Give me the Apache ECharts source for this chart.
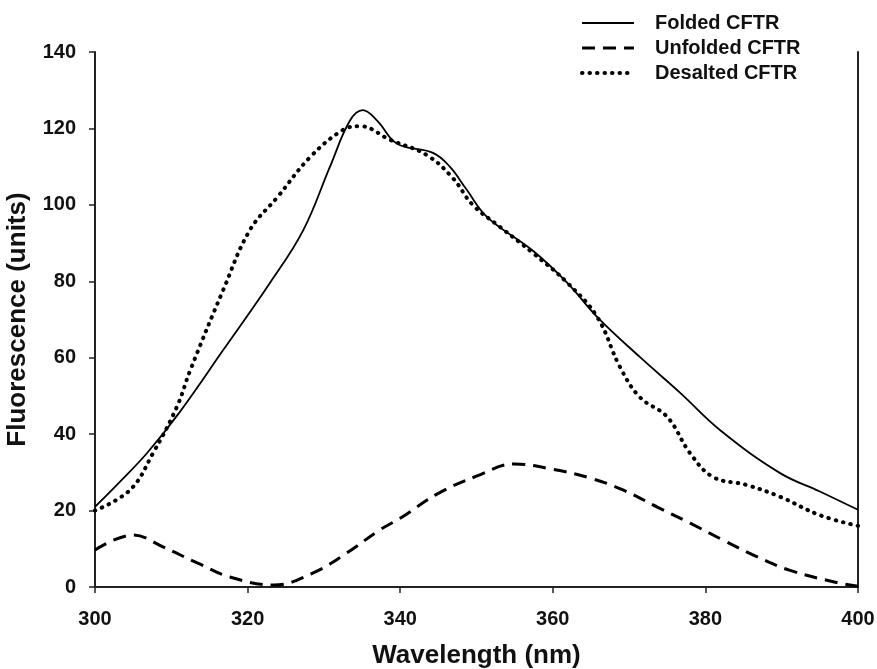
<!DOCTYPE html>
<html>
<head>
<meta charset="utf-8">
<script src="https://cdn.jsdelivr.net/npm/echarts@6/dist/echarts.min.js"></script>
<style>html,body{margin:0;padding:0;background:#fff;}#c{width:877px;height:669px;}</style>
</head>
<body>
<div id="c"></div>
<script>
var xTicks = [300, 320, 340, 360, 380, 400];
var yTicks = [0, 20, 40, 60, 80, 100, 120, 140];

var foldedX = [300, 303, 306.8, 311, 316.8, 322.9, 327.3, 330.8, 333.4, 335.1, 337, 339.6, 344.3, 346.5, 348.7, 351.4, 357.4, 361.9, 365.8, 371.4, 376.7, 381.9, 389.8, 395, 400];
var foldedY = [21, 27, 35, 45.5, 62, 79.5, 93.4, 110, 122, 124.8, 122, 116, 113.6, 110, 104, 96.8, 88, 79.6, 70.7, 60.2, 50.8, 41.1, 29.8, 25, 20.2];

var unfoldedX = [300, 305, 308.9, 313.4, 317.7, 323.4, 328.6, 333, 337.3, 340, 345, 350, 355, 360, 364.9, 369.2, 373.7, 378, 382.3, 386.8, 391, 397.6, 400];
var unfoldedY = [9.7, 13.6, 10.5, 6.3, 2.6, 0.5, 3.7, 8.9, 14.9, 18, 24.5, 29, 32.2, 30.8, 28.5, 25.4, 20.9, 16.7, 12.3, 7.9, 4.4, 1, 0.2];

var desaltedX = [300, 304.6, 307.6, 310.7, 312.5, 316.8, 320.3, 323.9, 328.2, 332.5, 334.7, 338.7, 343.5, 346.9, 349.5, 353.1, 357.4, 361.9, 365.8, 368.8, 371.4, 375, 378, 381, 385.4, 389.8, 395, 400];
var desaltedY = [20, 25.4, 35, 47, 56.8, 77.7, 93.4, 102, 112.5, 119.6, 120.6, 117, 113, 107, 100, 94.2, 87.4, 79.6, 70.7, 57.6, 49.7, 44.5, 35, 28.8, 26.7, 23.6, 18.8, 16];

var seriesNames = ['Folded CFTR', 'Unfolded CFTR', 'Desalted CFTR'];

function pairs(xs, ys) { return xs.map(function (x, i) { return [x, ys[i]]; }); }

var solidStyle = {color: '#000', width: 1.8, type: 'solid'};
var dashStyle = {color: '#000', width: 3, type: [13, 8]};
var dotStyle = {color: '#000', width: 4, type: [0.5, 7], cap: 'round'};

var chart = echarts.init(document.getElementById('c'), null, {renderer: 'canvas'});
var font = '"Liberation Sans", Arial, sans-serif';
chart.setOption({
  animation: false,
  backgroundColor: '#fff',
  grid: {left: 95, right: 19, top: 52, bottom: 82, containLabel: false, outerBoundsMode: 'none'},
  legend: {
    orient: 'vertical',
    left: 575, top: 8,
    itemWidth: 52, itemHeight: 20, itemGap: 5,
    data: [
      {name: seriesNames[0], lineStyle: solidStyle},
      {name: seriesNames[1], lineStyle: dashStyle},
      {name: seriesNames[2], lineStyle: dotStyle}
    ],
    itemStyle: {opacity: 0},
    textStyle: {fontFamily: font, fontWeight: 'bold', fontSize: 20, color: '#111', padding: [0, 0, 0, 16]}
  },
  xAxis: {
    type: 'value', min: 300, max: 400, interval: 20,
    name: 'Wavelength (nm)', nameLocation: 'middle', nameGap: 56,
    nameTextStyle: {fontFamily: font, fontWeight: 'bold', fontSize: 26, color: '#111'},
    axisLine: {show: true, onZero: false, lineStyle: {color: '#222', width: 2}},
    axisTick: {show: true, inside: false, length: 6, lineStyle: {color: '#222', width: 1.5}},
    axisLabel: {fontFamily: font, fontWeight: 'bold', fontSize: 20, color: '#111', margin: 22,
      formatter: function (v) { return xTicks.indexOf(v) >= 0 ? String(v) : ''; }},
    splitLine: {show: false}
  },
  yAxis: [{
    type: 'value', min: 0, max: 140, interval: 20,
    name: 'Fluorescence (units)', nameLocation: 'middle', nameGap: 64,
    nameTextStyle: {fontFamily: font, fontWeight: 'bold', fontSize: 26, color: '#111'},
    axisLine: {show: true, lineStyle: {color: '#222', width: 2}},
    axisTick: {show: true, inside: false, length: 6, lineStyle: {color: '#222', width: 1.5}},
    axisLabel: {fontFamily: font, fontWeight: 'bold', fontSize: 20, color: '#111', margin: 19,
      formatter: function (v) { return yTicks.indexOf(v) >= 0 ? String(v) : ''; }},
    splitLine: {show: false}
  }, {
    type: 'value', min: 0, max: 140, position: 'right',
    axisLine: {show: true, lineStyle: {color: '#222', width: 2}},
    axisTick: {show: false}, axisLabel: {show: false}, splitLine: {show: false}
  }],
  series: [{
    name: seriesNames[0], type: 'line', smooth: 0.4, symbol: 'none',
    data: pairs(foldedX, foldedY),
    lineStyle: solidStyle, itemStyle: {color: '#000'}
  }, {
    name: seriesNames[1], type: 'line', smooth: 0.4, symbol: 'none',
    data: pairs(unfoldedX, unfoldedY),
    lineStyle: dashStyle, itemStyle: {color: '#000'}
  }, {
    name: seriesNames[2], type: 'line', smooth: 0.4, symbol: 'none',
    data: pairs(desaltedX, desaltedY),
    lineStyle: dotStyle, itemStyle: {color: '#000'}
  }]
});
</script>
</body>
</html>
